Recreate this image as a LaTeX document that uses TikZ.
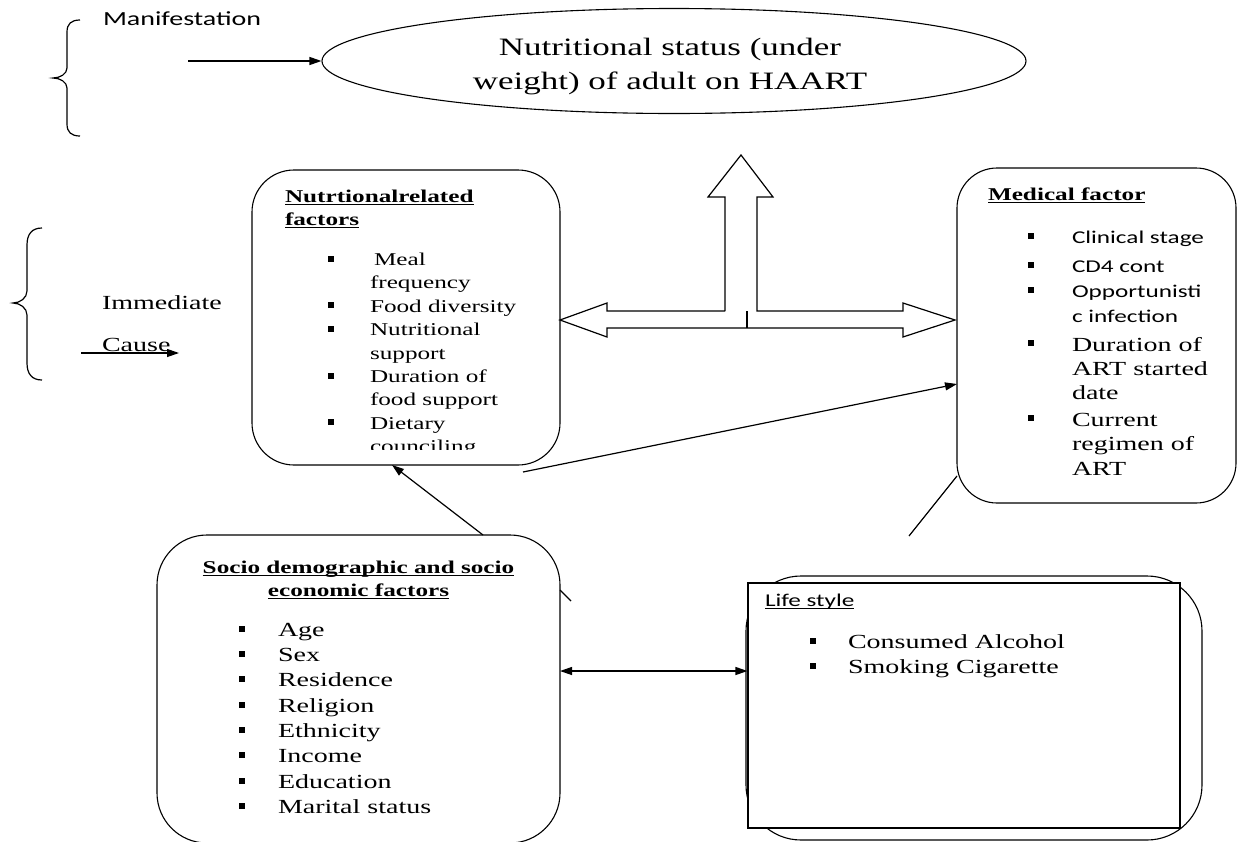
\documentclass[tikz,border=0pt]{standalone}
\usepackage{fontspec}
\setmainfont{Liberation Serif}[FakeStretch=1.4]
\newfontfamily\calfont{Carlito}[FakeStretch=1.4]
\usetikzlibrary{arrows.meta,shapes.geometric,calc}
\newcommand\fsA{\fontsize{18}{22}\selectfont}
\newcommand\fsB{\fontsize{20}{24}\selectfont}
\newcommand\fsC{\fontsize{25}{30}\selectfont}
\begin{document}
\begin{tikzpicture}[x=1pt,y=-1pt,
  rbox/.style={draw, line width=1.1pt, fill=white, inner sep=0pt, outer sep=0pt},
  txt/.style={anchor=base west, inner sep=0pt, outer sep=0pt},
  txtc/.style={anchor=base, inner sep=0pt, outer sep=0pt},
  bul/.style={fill=black, minimum width=6.5pt, minimum height=6pt, inner sep=0pt, outer sep=0pt},
  arr/.style={line width=1.2pt, -{Triangle[length=12pt,width=8pt]}},
  darr/.style={line width=1.2pt, {Triangle[length=12pt,width=8pt]}-{Triangle[length=12pt,width=8pt]}},
  ln/.style={line width=1.2pt},
  ul/.style={line width=1pt}]
\useasboundingbox (0,0) rectangle (1237,841);

% ---- Manifestation
\node[ellipse, draw, line width=1.1pt, minimum width=704pt, minimum height=105pt, inner sep=0pt] (goal) at (674,61) {};
\node[txtc, font=\fsC] (g1) at (670,55) {Nutritional status (under};
\node[txtc, font=\fsC] (g2) at (670,89) {weight) of adult on HAART};
\node[txt, font=\calfont\fontsize{20}{24}\selectfont] (man) at (103,25) {Manifestation};
\draw[line width=1.2pt] (80,20) .. controls (71,20) and (67,24) .. (67,32) -- (67,68)
  .. controls (67,74) and (60,78) .. (53,78) .. controls (60,78) and (67,82) .. (67,88)
  -- (67,124) .. controls (67,132) and (71,136) .. (80,136);
\coordinate (m1) at (188,61);
\draw[arr] (m1) -- (goal.west);

% ---- Immediate cause
\draw[line width=1.2pt] (42,228) .. controls (32,228) and (27,234) .. (27,245) -- (27,291)
  .. controls (27,298) and (20,303) .. (13,303) .. controls (20,303) and (27,308) .. (27,315)
  -- (27,363) .. controls (27,374) and (32,380) .. (42,380);
\node[txt, font=\fsB] (imm) at (102,309) {Immediate};
\node[txt, font=\fsB] (cau) at (102,351) {Cause};
\coordinate (ca) at (81,353);
\coordinate (cb) at (179,353);
\draw[arr] (ca) -- (cb);

% ---- Nutritional box
\node[rbox, rounded corners=42pt, minimum width=308pt, minimum height=295pt] (nut) at (406,317.5) {};
\node[txt, font=\fsA\bfseries] (nt1) at (285,202) {Nutrtionalrelated};
\node[txt, font=\fsA\bfseries] (nt2) at (285,225) {factors};
\draw[ul] ([yshift=-2.5pt]nt1.base west) -- ([yshift=-2.5pt]nt1.base east);
\draw[ul] ([yshift=-2.5pt]nt2.base west) -- ([yshift=-2.5pt]nt2.base east);
\node[bul] (nb1) at (331,258.5) {};
\node[bul] (nb2) at (331,305.3) {};
\node[bul] (nb3) at (331,328.7) {};
\node[bul] (nb4) at (331,375.5) {};
\node[bul] (nb5) at (331,422.3) {};
\node[txt, font=\fsA] (n1) at (374,265.5) {Meal};
\node[txt, font=\fsA] (n2) at (370,288.9) {frequency};
\node[txt, font=\fsA] (n3) at (370,312.3) {Food diversity};
\node[txt, font=\fsA] (n4) at (370,335.7) {Nutritional};
\node[txt, font=\fsA] (n5) at (370,359.1) {support};
\node[txt, font=\fsA] (n6) at (370,382.5) {Duration of};
\node[txt, font=\fsA] (n7) at (370,405.9) {food support};
\node[txt, font=\fsA] (n8) at (370,429.3) {Dietary};
\begin{scope}
\clip (252,170) rectangle (560,449);
\node[txt, font=\fsA] (n9) at (370,452.7) {counciling};
\end{scope}

% ---- Medical box
\node[rbox, rounded corners=40pt, minimum width=279pt, minimum height=335pt] (med) at (1096.5,335.5) {};
\node[txt, font=\fsA\bfseries] (mt) at (988,200) {Medical factor};
\draw[ul] ([yshift=-2.5pt]mt.base west) -- ([yshift=-2.5pt]mt.base east);
\node[bul] (mb1) at (1031,236) {};
\node[bul] (mb2) at (1031,265) {};
\node[bul] (mb3) at (1031,290) {};
\node[bul] (mb4) at (1031,343) {};
\node[bul] (mb5) at (1031,418) {};
\node[txt, font=\calfont\fsA] (m1t) at (1072,243) {Clinical stage};
\node[txt, font=\calfont\fsA] (m2t) at (1072,272) {CD4 cont};
\node[txt, font=\calfont\fsA] (m3t) at (1072,297) {Opportunisti};
\node[txt, font=\calfont\fsA] (m4t) at (1072,322) {c infection};
\node[txt, font=\fsB] (m5t) at (1072,351) {Duration of};
\node[txt, font=\fsB] (m6t) at (1072,375) {ART started};
\node[txt, font=\fsB] (m7t) at (1072,399) {date};
\node[txt, font=\fsB] (m8t) at (1072,426) {Current};
\node[txt, font=\fsB] (m9t) at (1072,450) {regimen of};
\node[txt, font=\fsB] (m10t) at (1072,475) {ART};

% ---- Socio box
\node[rbox, rounded corners=50pt, minimum width=403pt, minimum height=308pt] (soc) at (358.5,689) {};
\node[txtc, font=\fsA\bfseries] (st1) at (358.5,573) {Socio demographic and socio};
\node[txtc, font=\fsA\bfseries] (st2) at (358.5,596) {economic factors};
\draw[ul] ([yshift=-2.5pt]st1.base west) -- ([yshift=-2.5pt]st1.base east);
\draw[ul] ([yshift=-2.5pt]st2.base west) -- ([yshift=-2.5pt]st2.base east);
\foreach \t/\yy [count=\i] in {Age/636,Sex/661,Residence/686,Religion/712,Ethnicity/737,Income/762,Education/788,Marital status/813}{
  \node[bul] (sb\i) at (242,\yy-7) {};
  \node[txt, font=\fsB] (s\i) at (278,\yy) {\t};
}

% ---- Life style
\node[draw, line width=1.1pt, rounded corners=55pt, minimum width=456pt, minimum height=264pt, inner sep=0pt] (lsr) at (974,708) {};
\node[draw, line width=1.1pt, fill=white, minimum width=432pt, minimum height=245pt, inner sep=0pt] (ls) at (964,705.5) {};
\node[txt, font=\calfont\fsA] (lt) at (765,606) {Life style};
\draw[ul] ([yshift=-2.5pt]lt.base west) -- ([yshift=-2.5pt]lt.base east);
\node[bul] (lb1) at (813,641) {};
\node[bul] (lb2) at (813,666) {};
\node[txt, font=\fsB] (l1) at (848,648) {Consumed Alcohol};
\node[txt, font=\fsB] (l2) at (848,673) {Smoking Cigarette};

% ---- Block arrows
\draw[line width=1.2pt, line join=miter] (725,311) -- (725,197) -- (708,197) -- (741,155) -- (773,197) -- (757,197) -- (757,311)
  -- (903,311) -- (903,303) -- (955,320) -- (903,337) -- (903,328) -- (607,328) -- (607,337)
  -- (560,320) -- (607,303) -- (607,311) -- (725,311);
\draw[line width=1.2pt] (747,311) -- (747,328);

% ---- Connectors
\coordinate (sa) at (483,0);
\coordinate (na) at (392,0);
\draw[arr] (soc.north -| sa) -- (nut.south -| na);
\coordinate (nm) at (523,472);
\coordinate (mc) at (0,384);
\draw[arr] (nm) -- (med.west |- mc);
\coordinate (mq) at (0,476);
\coordinate (mr) at (909,536);
\draw[ln] (mr) -- (med.west |- mq);
\coordinate (s1) at (0,590);
\coordinate (s2) at (571,601);
\draw[ln] (soc.east |- s1) -- (s2);
\coordinate (dy) at (0,671);
\draw[darr] (soc.east |- dy) -- (ls.west |- dy);
\end{tikzpicture}
\end{document}
